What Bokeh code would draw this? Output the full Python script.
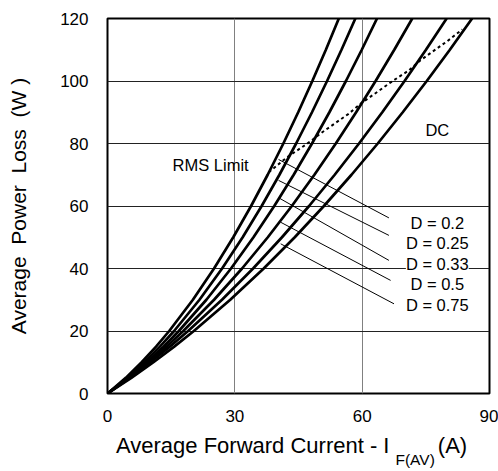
from bokeh.plotting import figure
from bokeh.models import Range1d, FixedTicker, Div
from bokeh.layouts import column
from bokeh.core.properties import value
from bokeh.embed import file_html
from bokeh.resources import INLINE

# Power loss levels (W) at which each curve's current was read
P_levels = [0, 5, 10, 15, 20, 30, 40, 50, 60, 70, 80, 90, 100, 110, 120]
# Average forward current (A) of each curve at those power levels
I_d02 = [0, 4.30, 8.05, 11.44, 14.54, 20.12, 25.1, 29.63, 33.83, 37.74, 41.43, 44.93, 48.26, 51.45, 54.5]
I_d025 = [0, 4.66, 8.71, 12.35, 15.69, 21.67, 27.0, 31.85, 36.32, 40.51, 44.44, 48.18, 51.73, 55.13, 58.4]
I_d033 = [0, 4.94, 9.28, 13.20, 16.80, 23.30, 29.1, 34.39, 39.29, 43.87, 48.18, 52.28, 56.18, 59.91, 63.5]
I_d05 = [0, 5.05, 9.65, 13.89, 17.85, 25.11, 31.7, 37.77, 43.43, 48.75, 53.79, 58.58, 63.17, 67.57, 71.8]
I_d075 = [0, 5.25, 10.12, 14.68, 18.99, 26.97, 34.3, 41.11, 47.49, 53.53, 59.26, 64.74, 69.99, 75.03, 79.9]
I_dc = [0, 5.62, 10.83, 15.72, 20.34, 28.92, 36.8, 44.12, 50.99, 57.49, 63.67, 69.56, 75.22, 80.66, 85.9]

# RMS limit (dashed)
rms_I = [38.0, 42.3, 47.0, 50.6, 56.8, 59.6, 67.4, 71.0, 73.7, 80.0, 83.6]
rms_P = [70.8, 75.6, 79.9, 83.6, 89.5, 92.7, 100.2, 103.4, 106.6, 112.7, 116.5]

# Duty-cycle labels and their leader lines
d_labels = ["D = 0.2", "D = 0.25", "D = 0.33", "D = 0.5", "D = 0.75"]
label_x = [77.7, 77.7, 77.7, 77.7, 77.7]
label_y = [54.5, 48.1, 41.4, 35.0, 28.3]
ptr_x0 = [40.3, 40.3, 40.5, 40.8, 40.8]
ptr_y0 = [74.9, 68.2, 62.5, 54.8, 47.9]
ptr_x1 = [66.3, 66.3, 66.3, 66.7, 67.5]
ptr_y1 = [56.2, 50.6, 42.6, 36.2, 28.7]

x_ticks = [0, 30, 60, 90]
y_ticks = [0, 20, 40, 60, 80, 100, 120]

FONT = "Liberation Sans"

p = figure(width=498, height=433, x_range=Range1d(0, 90), y_range=Range1d(0, 120),
           output_backend="svg", toolbar_location=None,
           min_border_left=107, min_border_right=9, min_border_top=18, min_border_bottom=40)
p.background_fill_color = "white"
p.border_fill_color = "white"
p.outline_line_color = "black"
p.outline_line_width = 2

p.xaxis.ticker = FixedTicker(ticks=x_ticks)
p.yaxis.ticker = FixedTicker(ticks=y_ticks)
for ax in (p.xaxis[0], p.yaxis[0]):
    ax.axis_line_color = None
    ax.major_tick_line_color = None
    ax.minor_tick_line_color = None
    ax.major_tick_out = 0
    ax.major_tick_in = 0
    ax.major_label_text_font = FONT
    ax.major_label_text_font_size = "17px"
    ax.major_label_text_color = "black"
p.xaxis.major_label_standoff = 16
p.yaxis.major_label_standoff = 19
p.yaxis.axis_label = "Average\u00a0 Power\u00a0 Loss\u00a0 (W )"
p.yaxis.axis_label_text_font = FONT
p.yaxis.axis_label_text_font_size = "21px"
p.yaxis.axis_label_text_font_style = "normal"
p.yaxis.axis_label_text_color = "black"
p.yaxis.axis_label_standoff = 27

p.xgrid.grid_line_color = "#808080"
p.xgrid.grid_line_width = 1
p.ygrid.grid_line_color = "#222222"
p.ygrid.grid_line_width = 1

for I in (I_d02, I_d025, I_d033, I_d05, I_d075, I_dc):
    p.line(I, P_levels, line_color="black", line_width=2.7)

p.line(rms_I, rms_P, line_color="black", line_width=2, line_dash="3 3")
p.segment(x0=ptr_x0, y0=ptr_y0, x1=ptr_x1, y1=ptr_y1, line_color="black", line_width=1)

p.text(x=label_x, y=label_y, text=d_labels, text_font=value(FONT), text_font_size="16.5px",
       text_align="center", text_baseline="middle", text_color="black",
       background_fill_color="white")
p.text(x=[24.3], y=[73.0], text=["RMS Limit"], text_font=value(FONT), text_font_size="16.5px",
       text_align="center", text_baseline="middle", text_color="black")
p.text(x=[77.7], y=[84.4], text=["DC"], text_font=value(FONT), text_font_size="16.5px",
       text_align="center", text_baseline="middle", text_color="black")

# x-axis title with subscript, as real HTML text below the figure
x_title_html = (
    '<div style="font-family:\'Liberation Sans\',Arial,sans-serif; font-size:22px; '
    'line-height:22px; padding-top:2px; padding-left:116px; white-space:nowrap; color:black;">'
    'Average Forward Current - I'
    '<span style="font-size:15.5px; position:relative; top:12px; margin-left:6px; margin-right:3px;">F(AV)</span>'
    '(A)</div>'
)
div = Div(text=x_title_html, width=498, height=38, margin=(0, 0, 0, 0))

layout = column(p, div, spacing=0)
open("out.html", "w").write(file_html(layout, INLINE))
